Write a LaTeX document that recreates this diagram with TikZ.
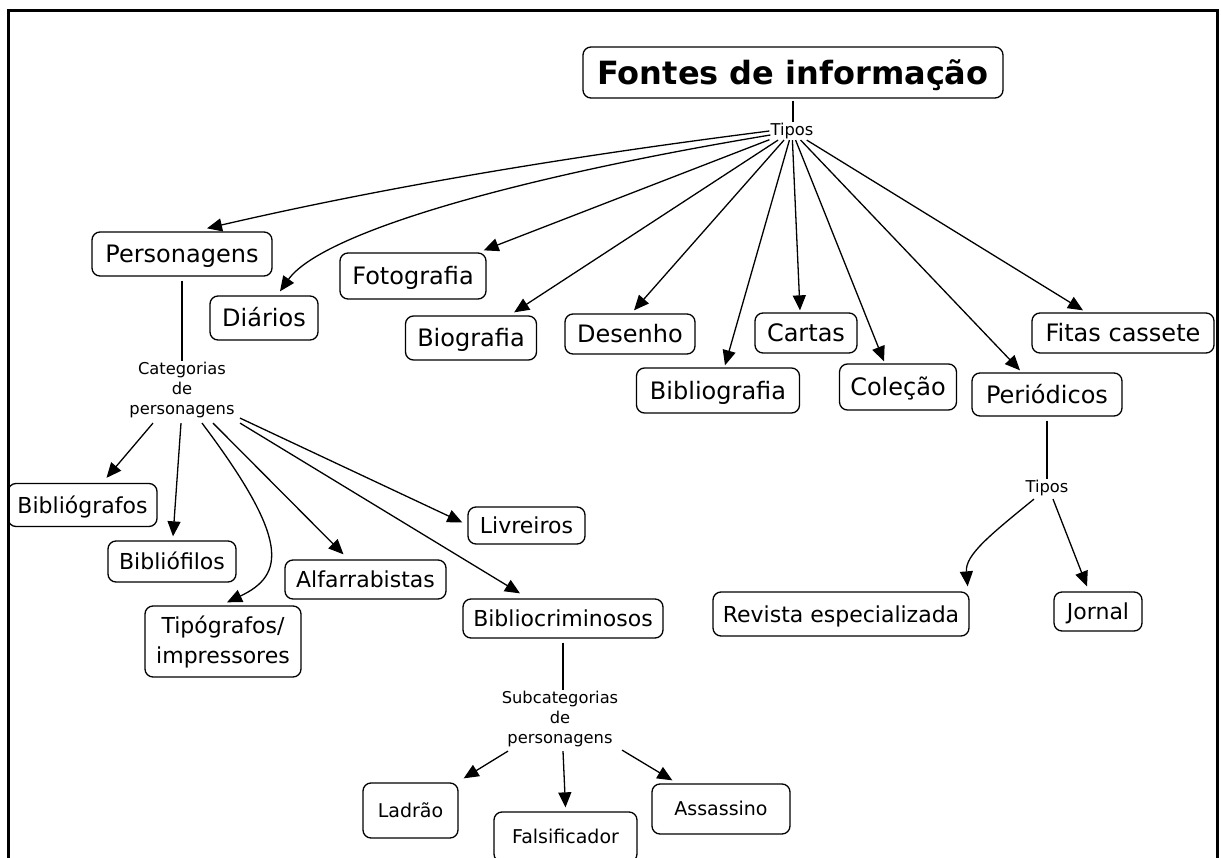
\documentclass[tikz,border=0pt]{standalone}
\usepackage{fontspec}
\setmainfont{DejaVu Sans}
\usetikzlibrary{arrows.meta,calc}
\begin{document}
\begin{tikzpicture}[x=1pt,y=-1pt,
  box/.style={draw,line width=1.3pt,rounded corners=8pt,align=center,inner sep=0pt},
  sz/.style 2 args={minimum width=#1pt,minimum height=#2pt},
  lvA/.style={box,text height=22.8pt,text depth=5.3pt,font=\fontsize{24}{28}\selectfont},
  lvB/.style={box,text height=20.9pt,text depth=4.9pt,font=\fontsize{22}{30}\selectfont},
  lvBtwo/.style={box,font=\fontsize{22}{30}\selectfont},
  lvC/.style={box,text height=18pt,text depth=4.2pt,font=\fontsize{19}{23}\selectfont},
  lbl/.style={font=\fontsize{16.3}{20}\selectfont,align=center,inner sep=1pt},
  conn/.style={line width=1.3pt},
  arr/.style={conn,-{Triangle[length=15pt,width=13pt]}},
]
\useasboundingbox (0,0) rectangle (1221,858);
\fill[white] (0,0) rectangle (1221,858);
% frame
\draw[line width=3pt] (8.5,870) -- (8.5,10.5) -- (1217,10.5) -- (1217,870);

% root
\node[box,text height=30.4pt,text depth=7.1pt,font=\fontsize{32}{36}\selectfont\bfseries,sz={420}{51}] (root) at (793,72.5) {Fontes de informação};
\node[lbl] (tipos) at (792,131) {Tipos};
\draw[conn] ($(root.south)+(0,2)$) -- (root.south |- tipos.north);

% level 1
\node[lvA,sz={180}{44}] (pers) at (182,254) {Personagens};
\node[lvA,sz={108}{44}] (diar) at (264,318) {Diários};
\node[lvA,sz={146}{46}] (foto) at (413,276) {Fotografia};
\node[lvA,sz={131}{44}] (bio) at (471,338) {Biografia};
\node[lvA,sz={130}{40}] (des) at (630,334) {Desenho};
\node[lvA,sz={102}{40}] (cart) at (806,333) {Cartas};
\node[lvA,sz={163}{45}] (bibl) at (718,390.5) {Bibliografia};
\node[lvA,sz={117}{46}] (col) at (898,387) {Coleção};
\node[lvA,sz={150}{43}] (per) at (1047,394.5) {Periódicos};
\node[lvA,sz={182}{40}] (fit) at (1123,333) {Fitas cassete};

\draw[arr] (tipos.west) .. controls (580,155) and (394,185) .. ($(pers.north)+(25,-3)$);
\draw[arr] ($(tipos.west)+(1,4)$) .. controls (500,180) and (320,235) .. ($(diar.north)+(16,-4)$);
\draw[arr] (tipos) -- ($(foto.north east)+(-3,-2)$);
\draw[arr] (tipos) -- ($(bio.north east)+(-23,-3)$);
\draw[arr] (tipos) -- ($(des.north)+(4,-3)$);
\draw[arr] (tipos) -- ($(bibl.north)+(7,-2)$);
\draw[arr] (tipos) -- ($(cart.north)+(-6,-2)$);
\draw[arr] (tipos) -- ($(col.north)+(-14,-2)$);
\draw[arr] (tipos) -- ($(per.north)+(-27,-2)$);
\draw[arr] (tipos) -- ($(fit.north)+(-40,-2)$);

% personagens subtree
\node[lbl] (cat) at (182,390) {Categorias\\de\\personagens};
\draw[conn] ($(pers.south)+(0,4)$) -- (pers.south |- cat.north);

\node[lvB,sz={149}{43}] (bgf) at (82.5,505) {Bibliógrafos};
\node[lvB,sz={128}{41}] (bfl) at (172,561.5) {Bibliófilos};
\node[lvBtwo,sz={156}{71}] (tip) at (223,641.5) {Tipógrafos/\\impressores};
\node[lvB,sz={161}{39}] (alf) at (365.5,579.5) {Alfarrabistas};
\node[lvB,sz={117}{37}] (liv) at (526.5,525.5) {Livreiros};
\node[lvB,sz={200}{39}] (bcr) at (563,618.5) {Bibliocriminosos};

\draw[arr] ($(cat.south)+(-29,4)$) -- ($(bgf.north)+(24,-5)$);
\draw[arr] ($(cat.south)+(-1,4)$) -- ($(bfl.north)+(1,-4)$);
\draw[arr] ($(cat.south)+(20,4)$) .. controls (290,540) and (285,575) .. ($(tip.north)+(4,-3)$);
\draw[arr] ($(cat.south)+(31,4)$) -- ($(alf.north)+(-22,-5)$);
\draw[arr] ($(cat.south)+(58,4)$) -- ($(bcr.north)+(-43,-5)$);
\draw[arr] ($(cat.south)+(58,-1)$) -- ($(liv.west)+(-5,-3)$);

% bibliocriminosos subtree
\node[lbl] (sub) at (560,719) {Subcategorias\\de\\personagens};
\draw[conn] ($(bcr.south)+(0,4)$) -- (bcr.south |- sub.north);

\node[lvC,sz={95}{55}] (lad) at (410.5,810.5) {Ladrão};
\node[lvC,sz={143}{50}] (fal) at (565.5,837) {Falsificador};
\node[lvC,sz={138}{50}] (ass) at (721,809) {Assassino};

\draw[arr] ($(sub.south)+(-52,3)$) -- ($(lad.north east)+(5,-4)$);
\draw[arr] ($(sub.south)+(3,3)$) -- ($(fal.north)+(0,-4)$);
\draw[arr] ($(sub.south)+(62,2)$) -- ($(ass.north west)+(21,-3)$);

% periodicos subtree
\node[lbl] (tipos2) at (1047,488) {Tipos};
\draw[conn] ($(per.south)+(0,4)$) -- (per.south |- tipos2.north);

\node[lvB,sz={256}{44}] (rev) at (841,614) {Revista especializada};
\node[lvB,sz={88}{39}] (jor) at (1098,611.5) {Jornal};

\draw[arr] ($(tipos2.south)+(-13,2)$) .. controls (990,535) and (965,555) .. ($(rev.north east)+(-2,-5)$);
\draw[arr] ($(tipos2.south)+(6,2)$) -- ($(jor.north)+(-11,-5)$);
\end{tikzpicture}
\end{document}
